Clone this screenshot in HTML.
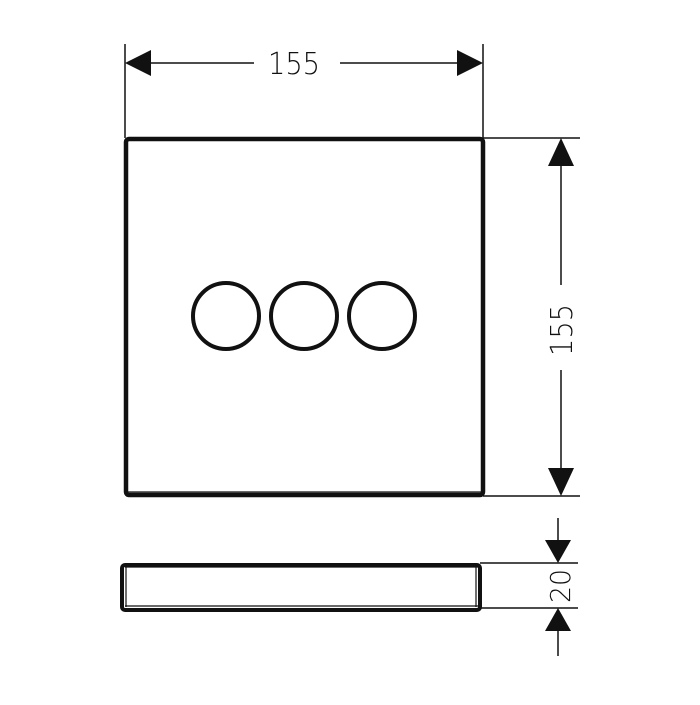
<!DOCTYPE html>
<html><head><style>body{margin:0;background:#fff}</style></head><body>
<svg width="700" height="700" viewBox="0 0 700 700" xmlns="http://www.w3.org/2000/svg">
<g stroke="#111" fill="none">
<!-- top dimension -->
<line x1="125" y1="44" x2="125" y2="138" stroke-width="1.5"/>
<line x1="483" y1="44" x2="483" y2="138" stroke-width="1.5"/>
<line x1="140" y1="63" x2="254" y2="63" stroke-width="1.5"/>
<line x1="340" y1="63" x2="470" y2="63" stroke-width="1.5"/>
<!-- main plate -->
<rect x="126" y="139" width="357" height="356" rx="3" stroke-width="4.5"/>
<line x1="128" y1="492" x2="481" y2="492" stroke-width="1.2"/>
<circle cx="226" cy="316" r="33" stroke-width="4"/>
<circle cx="304" cy="316" r="33" stroke-width="4"/>
<circle cx="382" cy="316" r="33" stroke-width="4"/>
<!-- right dimension -->
<line x1="483" y1="138" x2="580" y2="138" stroke-width="1.5"/>
<line x1="483" y1="496" x2="580" y2="496" stroke-width="1.5"/>
<line x1="561" y1="160" x2="561" y2="285" stroke-width="1.5"/>
<line x1="561" y1="370" x2="561" y2="475" stroke-width="1.5"/>
<!-- side view -->
<rect x="122" y="565" width="358" height="45" rx="3" stroke-width="4"/>
<line x1="125" y1="567" x2="478" y2="567" stroke-width="1.2"/>
<line x1="125" y1="606" x2="478" y2="606" stroke-width="1.2"/>
<line x1="126" y1="567" x2="126" y2="607" stroke-width="1.2"/>
<line x1="476" y1="567" x2="476" y2="607" stroke-width="1.2"/>
<line x1="480" y1="563" x2="578" y2="563" stroke-width="1.5"/>
<line x1="480" y1="608" x2="578" y2="608" stroke-width="1.5"/>
<line x1="558" y1="518" x2="558" y2="545" stroke-width="1.5"/>
<line x1="558" y1="628" x2="558" y2="656" stroke-width="1.5"/>
</g>
<g fill="#111">
<polygon points="125,63 151,50 151,76"/>
<polygon points="483,63 457,50 457,76"/>
<polygon points="561,138 548,166 574,166"/>
<polygon points="561,496 548,468 574,468"/>
<polygon points="558,563 545,540 571,540"/>
<polygon points="558,608 545,631 571,631"/>
</g>
<g font-family="'DejaVu Sans','Liberation Sans',sans-serif" font-weight="300" fill="#111">
<text x="294" y="74" font-size="30" text-anchor="middle" textLength="52" lengthAdjust="spacingAndGlyphs">155</text>
<text transform="translate(572,330) rotate(-90)" font-size="30" text-anchor="middle" textLength="52" lengthAdjust="spacingAndGlyphs">155</text>
<text transform="translate(570,586) rotate(-90)" font-size="28" text-anchor="middle" textLength="34" lengthAdjust="spacingAndGlyphs">20</text>
</g>
</svg>
</body></html>
